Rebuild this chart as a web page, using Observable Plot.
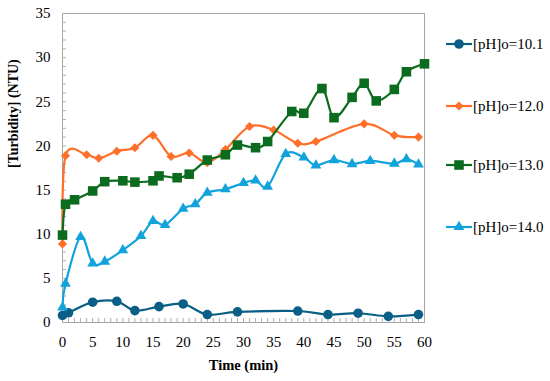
<!DOCTYPE html>
<html>
<head>
<meta charset="utf-8">
<script src="https://cdn.jsdelivr.net/npm/d3@7"></script>
<script src="https://cdn.jsdelivr.net/npm/@observablehq/plot@0.6"></script>
<style>
  body { margin: 0; background: #fff; }
  #wrap { position: relative; width: 550px; height: 381px; font-family: "Liberation Serif", "Times New Roman", serif; }
  #legend { position: absolute; left: 446px; top: 0; }
  .item { position: absolute; display: flex; align-items: center; height: 18px; white-space: nowrap; font-size: 15px; color: #000; }
  .item svg { display: block; margin-right: 1px; }
</style>
</head>
<body>
<div id="wrap"><div id="legend"></div></div>
<script>
// ---- data ----
const seriesNames = ["[pH]o=10.1", "[pH]o=12.0", "[pH]o=13.0", "[pH]o=14.0"];

const t101 = [0, 1, 5, 9, 12, 16, 20, 24, 29, 39, 44, 49, 54, 59];
const v101 = [0.8, 1.1, 2.3, 2.4, 1.35, 1.8, 2.1, 0.9, 1.2, 1.3, 0.9, 1.05, 0.7, 0.9];

const t120 = [0, 0.5, 4, 6, 9, 12, 15, 18, 21, 24, 27, 31, 35, 39, 42, 50, 55, 59];
const v120 = [8.9, 18.9, 19.0, 18.6, 19.4, 19.8, 21.2, 18.8, 19.2, 18.1, 19.6, 22.2, 21.8, 20.3, 20.5, 22.5, 21.2, 21.0];

const t130 = [0, 0.5, 2, 5, 7, 10, 12, 15, 16, 19, 21, 24, 27, 29, 32, 34, 38, 40, 43, 45, 48, 50, 52, 55, 57, 60];
const v130 = [9.9, 13.4, 13.9, 14.9, 15.95, 16.05, 15.9, 16.05, 16.6, 16.4, 16.8, 18.4, 19.0, 20.1, 19.8, 20.5, 23.9, 23.7, 26.5, 23.2, 25.5, 27.1, 25.1, 26.4, 28.4, 29.3];

const t140 = [0, 0.5, 3, 5, 7, 10, 13, 15, 17, 20, 22, 24, 27, 30, 32, 34, 37, 40, 42, 45, 48, 51, 55, 57, 59];
const v140 = [1.7, 4.4, 9.7, 6.7, 6.9, 8.2, 9.8, 11.5, 11.05, 12.9, 13.4, 14.7, 15.1, 15.8, 16.1, 15.4, 19.1, 18.7, 17.8, 18.4, 17.95, 18.3, 18.0, 18.5, 17.9];

const xTicks = [0, 5, 10, 15, 20, 25, 30, 35, 40, 45, 50, 55, 60];
const yTicks = [0, 5, 10, 15, 20, 25, 30, 35];
const xTitle = "Time (min)";
const yTitle = "[Turbidity] (NTU)";

// ---- styles ----
const colors = ["#0b5f86", "#ff6f2a", "#0b6b1e", "#12a3dc"];
const symbols = ["circle", "diamond2", "square", "triangle"];
const radii = [4.8, 4.1, 5.4, 4.0];

const series = [
  {t: t101, v: v101}, {t: t120, v: v120}, {t: t130, v: v130}, {t: t140, v: v140}
].map((s, i) => ({
  name: seriesNames[i], color: colors[i], symbol: symbols[i], r: radii[i],
  data: s.t.map((t, j) => ({t, v: s.v[j]}))
}));

const marks = [
  Plot.frame({stroke: "#a6a6a6"}),
  Plot.axisY(d3.range(0, 36), {tickSize: -4, tickFormat: () => "", stroke: "#b0b0b0", label: null}),
  Plot.axisX(d3.range(0, 61), {tickSize: -4, tickFormat: () => "", stroke: "#b0b0b0", label: null}),
  Plot.axisY(yTicks, {tickSize: 0, tickPadding: 12, fontSize: 15, label: null}),
  Plot.axisX(xTicks, {tickSize: 0, tickPadding: 14, fontSize: 15, label: null}),
  Plot.text([yTitle], {frameAnchor: "left", rotate: -90, dx: -49, dy: 0, fontWeight: "bold", fontSize: 14}),
  Plot.text([xTitle], {frameAnchor: "bottom", dy: 47, fontWeight: "bold", fontSize: 14.5})
];
for (const s of series) {
  marks.push(Plot.line(s.data, {x: "t", y: "v", stroke: s.color, strokeWidth: 2.2, curve: "cardinal"}));
  marks.push(Plot.dot(s.data, {x: "t", y: "v", fill: s.color, stroke: "none", symbol: s.symbol, r: s.r}));
}

const chart = Plot.plot({
  width: 550,
  height: 381,
  marginLeft: 62,
  marginRight: 126,
  marginTop: 13,
  marginBottom: 59,
  style: {fontFamily: "'Liberation Serif', 'Times New Roman', serif", fontSize: "15px", color: "#000", background: "#fff"},
  x: {domain: [0, 60], axis: null},
  y: {domain: [0, 35], axis: null},
  marks
});
document.getElementById("wrap").prepend(chart);

// ---- legend ----
const legend = d3.select("#legend");
const legendCenters = [44, 106, 165, 227];
series.forEach((s, i) => {
  const item = legend.append("div").attr("class", "item").style("top", (legendCenters[i] - 9) + "px");
  const svg = item.append("svg").attr("width", 26).attr("height", 18);
  svg.append("line").attr("x1", 0).attr("x2", 26).attr("y1", 9).attr("y2", 9)
    .attr("stroke", s.color).attr("stroke-width", 2.2);
  const symMap = {circle: d3.symbolCircle, diamond2: d3.symbolDiamond2, square: d3.symbolSquare, triangle: d3.symbolTriangle};
  svg.append("path").attr("transform", "translate(13,9)")
    .attr("d", d3.symbol(symMap[s.symbol], s.r * s.r * Math.PI)())
    .attr("fill", s.color);
  item.append("span").text(s.name);
});
</script>
</body>
</html>
